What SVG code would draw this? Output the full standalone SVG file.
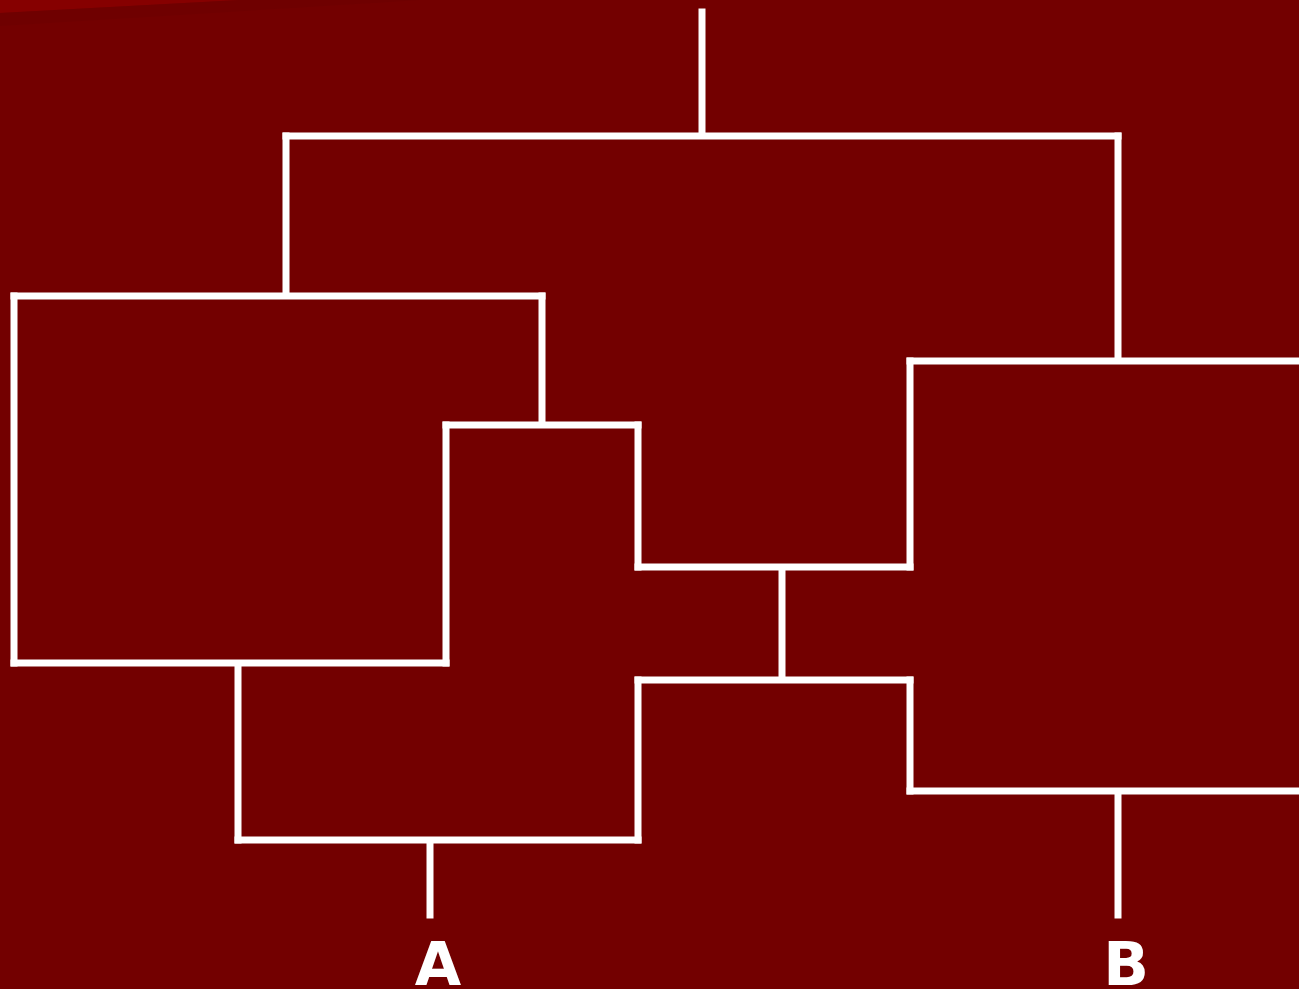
<svg xmlns="http://www.w3.org/2000/svg" width="1299" height="989" viewBox="0 0 1299 989">
<defs>
<style>
.bg{fill:#730000}
.edge{stroke:#ffffff;stroke-width:7;fill:none;stroke-linecap:square}
.lbl{fill:#ffffff;font-family:"DejaVu Sans",sans-serif;font-weight:bold;font-size:60px;text-anchor:middle}
</style>
</defs>
<rect class="bg" x="0" y="0" width="1299" height="989"/>
<polygon points="0,0 240,0 0,13" fill="#860000"/>
<polygon points="0,13 240,0 420,0 0,26" fill="#6c0000" opacity="0.6"/>
<g id="connectors">
<line class="edge" x1="702" y1="12" x2="702" y2="132"/>
<line class="edge" x1="286" y1="136" x2="1118" y2="136"/>
<line class="edge" x1="286" y1="136" x2="286" y2="292"/>
<line class="edge" x1="1118" y1="136" x2="1118" y2="356"/>
<line class="edge" x1="14" y1="296" x2="542" y2="296"/>
<line class="edge" x1="14" y1="296" x2="14" y2="663"/>
<line class="edge" x1="14" y1="663" x2="446" y2="663"/>
<line class="edge" x1="542" y1="296" x2="542" y2="421"/>
<line class="edge" x1="446" y1="425" x2="638" y2="425"/>
<line class="edge" x1="446" y1="425" x2="446" y2="663"/>
<line class="edge" x1="638" y1="425" x2="638" y2="567"/>
<line class="edge" x1="638" y1="567" x2="910" y2="567"/>
<line class="edge" x1="910" y1="361" x2="910" y2="567"/>
<line class="edge" x1="910" y1="361" x2="1302" y2="361"/>
<line class="edge" x1="782" y1="571" x2="782" y2="676"/>
<line class="edge" x1="638" y1="680" x2="910" y2="680"/>
<line class="edge" x1="638" y1="680" x2="638" y2="840"/>
<line class="edge" x1="910" y1="680" x2="910" y2="791"/>
<line class="edge" x1="910" y1="791" x2="1302" y2="791"/>
<line class="edge" x1="238" y1="667" x2="238" y2="840"/>
<line class="edge" x1="238" y1="840" x2="638" y2="840"/>
<line class="edge" x1="430" y1="844" x2="430" y2="915"/>
<line class="edge" x1="1118" y1="795" x2="1118" y2="915"/>
</g>
<g id="node-A"><text class="lbl" x="438" y="985">A</text></g>
<g id="node-B"><text class="lbl" x="1126" y="985">B</text></g>
</svg>
